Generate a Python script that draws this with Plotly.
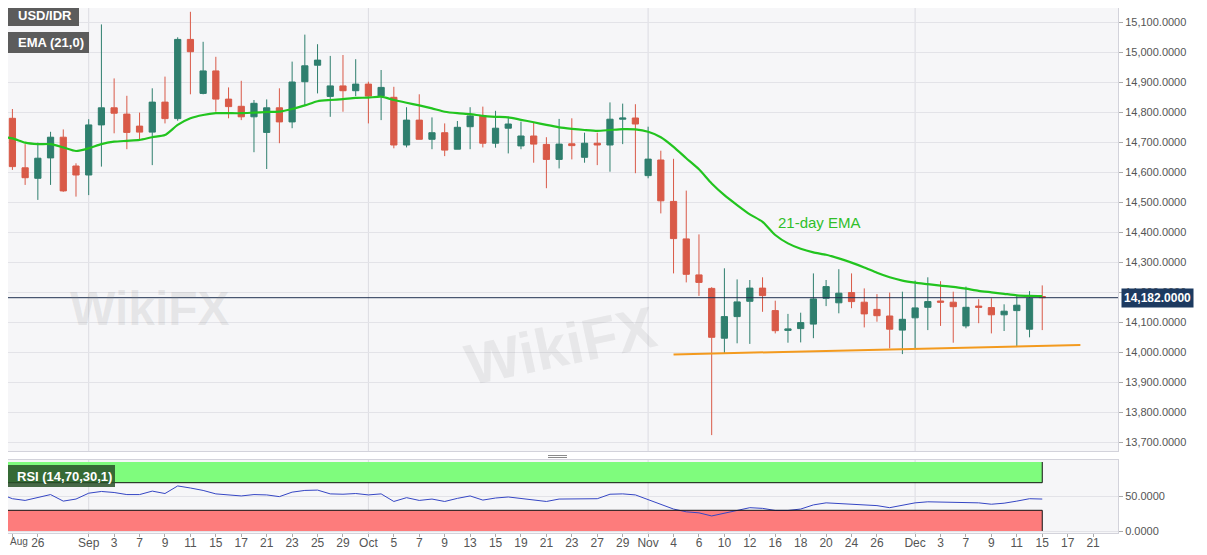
import plotly.graph_objects as go

# USD/IDR daily candles, 21 Aug - 15 Dec 2020
dates = [
    "2020-08-21", "2020-08-24", "2020-08-25", "2020-08-26", "2020-08-27", "2020-08-28", "2020-08-31",
    "2020-09-01", "2020-09-02", "2020-09-03", "2020-09-04", "2020-09-07", "2020-09-08", "2020-09-09",
    "2020-09-10", "2020-09-11", "2020-09-14", "2020-09-15", "2020-09-16", "2020-09-17", "2020-09-18",
    "2020-09-21", "2020-09-22", "2020-09-23", "2020-09-24", "2020-09-25", "2020-09-28", "2020-09-29",
    "2020-09-30",
    "2020-10-01", "2020-10-02", "2020-10-05", "2020-10-06", "2020-10-07", "2020-10-08", "2020-10-09",
    "2020-10-12", "2020-10-13", "2020-10-14", "2020-10-15", "2020-10-16", "2020-10-19", "2020-10-20",
    "2020-10-21", "2020-10-22", "2020-10-23", "2020-10-26", "2020-10-27", "2020-10-28", "2020-10-29",
    "2020-10-30",
    "2020-11-02", "2020-11-03", "2020-11-04", "2020-11-05", "2020-11-06", "2020-11-09", "2020-11-10",
    "2020-11-11", "2020-11-12", "2020-11-13", "2020-11-16", "2020-11-17", "2020-11-18", "2020-11-19",
    "2020-11-20", "2020-11-23", "2020-11-24", "2020-11-25", "2020-11-26", "2020-11-27", "2020-11-30",
    "2020-12-01", "2020-12-02", "2020-12-03", "2020-12-04", "2020-12-07", "2020-12-08", "2020-12-09",
    "2020-12-10", "2020-12-11", "2020-12-14", "2020-12-15",
]

opens = [
    14730, 14780, 14615, 14580, 14648, 14717, 14621,
    14591, 14758, 14815, 14794, 14754, 14734, 14834, 14779, 15043, 14863, 14938, 14844, 14820, 14785,
    14733, 14815, 14768, 14902, 14957, 14853, 14888, 14872,
    14894, 14854, 14850, 14691, 14774, 14710, 14732, 14677, 14752, 14789, 14697, 14747, 14688, 14721,
    14693, 14643, 14695, 14650, 14697, 14691, 14777, 14781,
    14589, 14641, 14503, 14378, 14258, 14213, 14047, 14119, 14170, 14214, 14139, 14073, 14079, 14094,
    14180, 14165, 14199, 14167, 14143, 14121, 14074,
    14115, 14150, 14171, 14167, 14088, 14154, 14149, 14125, 14139, 14077, 14186,
]
highs = [
    14841, 14811, 14694, 14699, 14735, 14743, 14630,
    14777, 15093, 14913, 14855, 14799, 14880, 14919, 15050, 15135, 15035, 14985, 14883, 14905, 14841,
    14843, 14880, 14969, 15059, 15027, 14988, 14991, 14977,
    14902, 14941, 14885, 14817, 14860, 14783, 14763, 14771, 14817, 14819, 14805, 14785, 14769, 14765,
    14717, 14778, 14780, 14732, 14732, 14833, 14829, 14827,
    14752, 14672, 14645, 14539, 14393, 14217, 14280, 14243, 14241, 14250, 14172, 14128, 14132, 14263,
    14241, 14277, 14263, 14213, 14194, 14199, 14202,
    14239, 14250, 14237, 14202, 14219, 14177, 14180, 14160, 14188, 14204, 14223,
]
lows = [
    14635, 14608, 14558, 14508, 14558, 14535, 14519,
    14524, 14619, 14730, 14677, 14708, 14624, 14763, 14772, 14860, 14860, 14802, 14780, 14774, 14667,
    14611, 14697, 14747, 14824, 14863, 14785, 14802, 14854,
    14763, 14774, 14680, 14683, 14710, 14677, 14654, 14677, 14677, 14683, 14682, 14663, 14677, 14632,
    14547, 14613, 14643, 14632, 14624, 14602, 14694, 14597,
    14580, 14463, 14263, 14233, 14188, 13724, 13997, 14030, 14028, 14135, 14063, 14032, 14033, 14047,
    14154, 14130, 14147, 14083, 14102, 14013, 13994,
    14013, 14074, 14088, 14032, 14080, 14097, 14063, 14071, 14019, 14050, 14074,
]
closes = [
    14763, 14619, 14582, 14647, 14717, 14538, 14591,
    14758, 14815, 14797, 14733, 14734, 14834, 14779, 15043, 15002, 14938, 14844, 14819, 14785, 14830,
    14815, 14768, 14901, 14955, 14974, 14888, 14872, 14894,
    14854, 14883, 14691, 14774, 14710, 14732, 14674, 14750, 14788, 14697, 14747, 14761, 14721, 14694,
    14643, 14694, 14689, 14697, 14691, 14777, 14781, 14761,
    14644, 14505, 14379, 14260, 14233, 14050, 14119, 14168, 14214, 14189, 14072, 14078, 14099, 14178,
    14219, 14197, 14169, 14128, 14122, 14077, 14110,
    14148, 14169, 14167, 14152, 14150, 14150, 14125, 14137, 14157, 14180, 14182,
]

# 21-day EMA as drawn on the chart
ema21 = [
    14719, 14713, 14699, 14694, 14694, 14683, 14671,
    14680, 14694, 14702, 14705, 14708, 14717, 14724, 14758, 14780, 14791, 14797, 14797, 14797, 14799,
    14801, 14802, 14811, 14823, 14837, 14841, 14844, 14848,
    14849, 14852, 14841, 14832, 14823, 14813, 14802, 14797, 14794, 14788, 14785, 14783, 14775, 14767,
    14758, 14750, 14745, 14741, 14738, 14741, 14744, 14743,
    14735, 14717, 14685, 14647, 14610, 14563, 14524, 14491, 14460, 14435, 14391, 14363, 14345, 14333,
    14325, 14313, 14299, 14283, 14265, 14250, 14239,
    14232, 14227, 14222, 14218, 14212, 14205, 14200, 14195, 14190, 14188, 14187,
]

# RSI(14)
rsi14 = [
    53.8, 46.8, 44.3, 48.8, 52.8, 43.3, 46.3,
    54.8, 57.3, 55.8, 52.8, 52.8, 57.8, 54.3, 65.3, 62.3, 58.8, 53.8, 52.8, 50.8, 52.8,
    52.3, 49.8, 56.3, 58.8, 59.3, 53.8, 53.3, 54.3,
    52.3, 53.8, 42.8, 48.3, 44.3, 46.3, 42.8, 47.3, 50.8, 44.8, 47.8, 49.3, 46.8, 45.3,
    42.8, 46.3, 46.3, 46.8, 46.8, 53.3, 53.8, 52.3,
    45.3, 37.8, 31.8, 27.8, 26.3, 21.8, 26.3, 29.8, 33.8, 32.8, 29.8, 29.8, 31.8, 37.8,
    40.8, 39.8, 38.3, 36.8, 36.8, 33.8, 37.3,
    40.8, 42.3, 41.8, 41.3, 40.8, 40.8, 38.8, 40.3, 43.3, 46.8, 46.3,
]

tick_dates = [
    "2020-08-24", "2020-08-26", "2020-09-01", "2020-09-03", "2020-09-07", "2020-09-09", "2020-09-11",
    "2020-09-15", "2020-09-17", "2020-09-21", "2020-09-23", "2020-09-25", "2020-09-29", "2020-10-01",
    "2020-10-05", "2020-10-07", "2020-10-09", "2020-10-13", "2020-10-15", "2020-10-19", "2020-10-21",
    "2020-10-23", "2020-10-27", "2020-10-29", "2020-11-02", "2020-11-04", "2020-11-06", "2020-11-10",
    "2020-11-12", "2020-11-16", "2020-11-18", "2020-11-20", "2020-11-24", "2020-11-26", "2020-12-01",
    "2020-12-03", "2020-12-07", "2020-12-09", "2020-12-11", "2020-12-15", "2020-12-17", "2020-12-21",
]
tick_labels = [
    "Aug", "26", "Sep", "3", "7", "9", "11", "15", "17", "21", "23", "25", "29", "Oct",
    "5", "7", "9", "13", "15", "19", "21", "23", "27", "29", "Nov", "4", "6", "10",
    "12", "16", "18", "20", "24", "26", "Dec", "3", "7", "9", "11", "15", "17", "21",
]
month_starts = ["2020-09-01", "2020-10-01", "2020-11-02", "2020-12-01"]

support_dates = ["2020-11-04", "2020-12-18"]
support_values = [13993, 14024]
last_price = 14182

# the page sits 8px in from the window corner, so the figure is 8px smaller
# and the helpers take window pixels
OFF = 8
PW, PH = 1110, 525


def px(x):
    return (x - OFF) / PW


def py(y):
    return (PH - (y - OFF)) / PH


UP = "#2f7f6e"
DOWN = "#d95a48"
FONT = "Liberation Sans, Arial, sans-serif"

fig = go.Figure()

fig.add_trace(go.Candlestick(
    x=dates, open=opens, high=highs, low=lows, close=closes,
    increasing=dict(line=dict(color=UP, width=1), fillcolor=UP),
    decreasing=dict(line=dict(color=DOWN, width=1), fillcolor=DOWN),
    whiskerwidth=0, showlegend=False, hoverinfo="skip",
    xaxis="x", yaxis="y",
))
fig.add_scatter(x=dates, y=ema21, mode="lines", line=dict(color="#22c41f", width=2.2, shape="spline", smoothing=0.6),
                showlegend=False, hoverinfo="skip", xaxis="x", yaxis="y")
fig.add_scatter(x=support_dates, y=support_values, mode="lines", line=dict(color="#f39a1e", width=2),
                showlegend=False, hoverinfo="skip", xaxis="x", yaxis="y")
fig.add_scatter(x=dates, y=rsi14, mode="lines", line=dict(color="#3546c4", width=1),
                showlegend=False, hoverinfo="skip", xaxis="x2", yaxis="y2")

shapes = []
# month separators on both panels
for d in month_starts:
    shapes.append(dict(type="line", xref="x", yref="y domain", x0=d, x1=d, y0=0, y1=1,
                       line=dict(color="#dcdce2", width=1), layer="below"))
    shapes.append(dict(type="line", xref="x2", yref="y2 domain", x0=d, x1=d, y0=0, y1=1,
                       line=dict(color="#dcdce2", width=1), layer="below"))
# RSI bands
band_start = "2020-08-20"
shapes += [
    dict(type="rect", xref="x2", yref="y2", x0=band_start, x1=dates[-1], y0=70, y1=100,
         fillcolor="#7ffc7d", line=dict(width=0), layer="below"),
    dict(type="rect", xref="x2", yref="y2", x0=band_start, x1=dates[-1], y0=0, y1=30,
         fillcolor="#fd7c7c", line=dict(width=0), layer="below"),
    dict(type="line", xref="x2", yref="y2", x0=band_start, x1=dates[-1], y0=70, y1=70,
         line=dict(color="#111", width=1)),
    dict(type="line", xref="x2", yref="y2", x0=band_start, x1=dates[-1], y0=30, y1=30,
         line=dict(color="#111", width=1)),
    dict(type="line", xref="x2", yref="y2", x0=dates[-1], x1=dates[-1], y0=70, y1=100,
         line=dict(color="#111", width=1)),
    dict(type="line", xref="x2", yref="y2", x0=dates[-1], x1=dates[-1], y0=0, y1=30,
         line=dict(color="#111", width=1)),
]
# last price line
shapes.append(dict(type="line", xref="paper", yref="y", x0=0, x1=1, y0=last_price, y1=last_price,
                   line=dict(color="#1f3150", width=1)))
# legend boxes
shapes += [
    dict(type="rect", xref="paper", yref="paper", x0=px(5), x1=px(79), y0=py(26), y1=py(5),
         fillcolor="#5c5c5c", line=dict(width=0)),
    dict(type="rect", xref="paper", yref="paper", x0=px(5), x1=px(7), y0=py(26), y1=py(5),
         fillcolor=UP, line=dict(width=0)),
    dict(type="rect", xref="paper", yref="paper", x0=px(5), x1=px(89), y0=py(53), y1=py(32),
         fillcolor="#5c5c5c", line=dict(width=0)),
    dict(type="rect", xref="paper", yref="paper", x0=px(5), x1=px(7), y0=py(53), y1=py(32),
         fillcolor="#22c41f", line=dict(width=0)),
    dict(type="rect", xref="paper", yref="paper", x0=px(4), x1=px(115), y0=py(487), y1=py(465),
         fillcolor="rgba(40,80,40,0.85)", line=dict(width=0)),
    dict(type="rect", xref="paper", yref="paper", x0=px(4), x1=px(6), y0=py(487), y1=py(465),
         fillcolor="#22c41f", line=dict(width=0)),
]
# pane splitter grip
for gy in [455.5, 457.5]:
    shapes.append(dict(type="line", xref="paper", yref="paper", x0=px(548), x1=px(567), y0=py(gy), y1=py(gy),
                       line=dict(color="#8a8a8a", width=1)))

annotations = [
    dict(text="<b>USD/IDR</b>", x=px(16), y=py(15.5), xref="paper", yref="paper", xanchor="left",
         yanchor="middle", showarrow=False, font=dict(color="white", size=13, family=FONT)),
    dict(text="<b>EMA (21,0)</b>", x=px(16), y=py(42.5), xref="paper", yref="paper", xanchor="left",
         yanchor="middle", showarrow=False, font=dict(color="white", size=13, family=FONT)),
    dict(text="<b>RSI (14,70,30,1)</b>", x=px(15), y=py(476), xref="paper", yref="paper", xanchor="left",
         yanchor="middle", showarrow=False, font=dict(color="white", size=13, family=FONT)),
    dict(text="21-day EMA", x="2020-11-19 12:00", y=14434, xref="x", yref="y", showarrow=False,
         font=dict(color="#2fbf2a", size=15, family=FONT)),
    dict(text="<b>14,182.0000</b>", x=1, y=last_price, xref="paper", yref="y", xanchor="left",
         yanchor="middle", xshift=3, showarrow=False, bgcolor="#1d3a60", borderpad=2,
         font=dict(color="white", size=12, family=FONT)),
    # first month label sits on the left edge
    dict(text=tick_labels[0], x=0, y=py(541), xref="paper", yref="paper", xanchor="left",
         yanchor="middle", showarrow=False, font=dict(color="#555", size=10, family=FONT)),
    # faint watermarks
    dict(text="<b>WikiFX</b>", x=px(68), y=py(308), xref="paper", yref="paper", showarrow=False,
         font=dict(color="rgba(140,140,140,0.16)", size=48, family=FONT)),
    dict(text="<b>WikiFX</b>", x=px(560), y=py(345), xref="paper", yref="paper", showarrow=False,
         textangle=-12, font=dict(color="rgba(140,140,140,0.14)", size=58, family=FONT)),
]

xrange = ["2020-08-21 15:40", "2020-12-22 23:00"]
breaks = [dict(bounds=["sat", "mon"])]

fig.update_layout(
    width=1207 - OFF, height=555 - OFF,
    margin=dict(l=0, r=1207 - OFF - PW, t=0, b=555 - OFF - PH),
    paper_bgcolor="white", plot_bgcolor="#f6f6f8",
    font=dict(family=FONT, size=12, color="#555"),
    showlegend=False,
    shapes=shapes, annotations=annotations,
    xaxis=dict(domain=[0, 1], anchor="y", range=xrange, rangebreaks=breaks, matches="x2",
               showticklabels=False, showgrid=False, rangeslider=dict(visible=False),
               showline=True, linecolor="#d3d3db", mirror=True, ticks=""),
    yaxis=dict(domain=[py(451), 1], anchor="x", side="right", range=[13671, 15147.7],
               dtick=100, tick0=13700, tickformat=",.4f", gridcolor="#e3e3e8",
               ticks="outside", ticklen=4, tickcolor="#aaa", showline=True, linecolor="#d3d3db",
               zeroline=False, tickfont=dict(size=11, color="#555")),
    xaxis2=dict(domain=[0, 1], anchor="y2", range=xrange, rangebreaks=breaks, automargin=False,
                tickmode="array", tickvals=tick_dates, ticktext=[""] + tick_labels[1:], showgrid=False,
                ticks="outside", ticklen=3, tickcolor="#aaa", showline=True, linecolor="#d3d3db",
                ticklabelstandoff=-4,
                mirror=True, tickfont=dict(size=12, color="#555")),
    yaxis2=dict(domain=[0, py(460)], anchor="x2", side="right", range=[-2.9, 102.9],
                tickvals=[0, 50], tickformat=".4f", gridcolor="#e3e3e8", zeroline=False,
                ticks="outside", ticklen=4, tickcolor="#aaa", showline=True, linecolor="#d3d3db",
                tickfont=dict(size=11, color="#555")),
)

fig.write_html("out.html")
